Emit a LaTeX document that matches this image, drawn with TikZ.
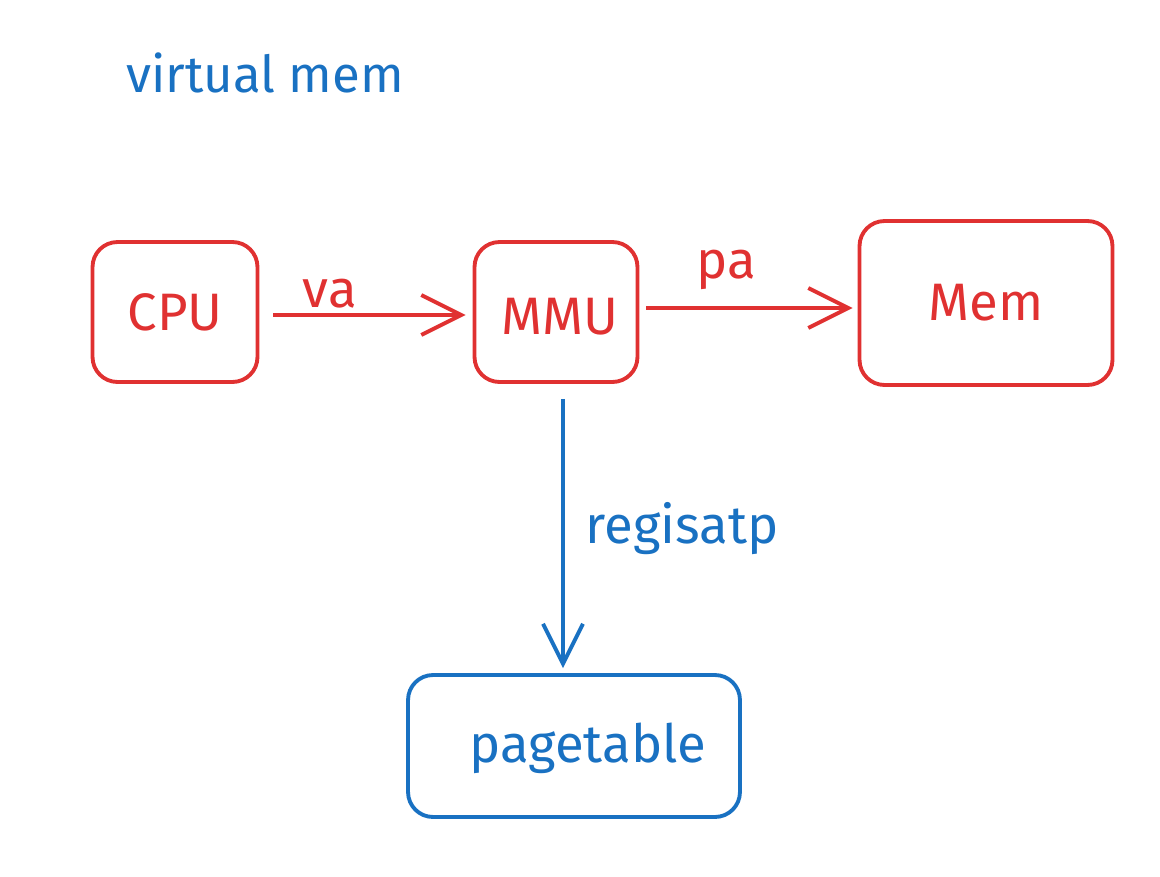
\documentclass[tikz,border=0pt]{standalone}
\usepackage{fontspec}
\setmainfont{Fira Sans}
\usetikzlibrary{arrows.meta}
\definecolor{sketchred}{HTML}{E03131}
\definecolor{sketchblue}{HTML}{1971C2}

\tikzset{
  box/.style={draw, rounded corners=0.5cm, line width=2.2pt, inner sep=0pt},
  lbl/.style={font=\fontsize{30}{34}\selectfont},
  barb/.style={-{Straight Barb[length=0.8cm,width=0.8cm,line width=2.2pt]}, line width=2.4pt}
}

\begin{document}
\begin{tikzpicture}[x=0.02cm,y=-0.02cm]
\useasboundingbox (0,0) rectangle (1160,876);
\node [lbl, text=sketchblue, font=\fontsize{29}{34}\selectfont] (title) at (265,73) {virtual mem};
% boxes
\node [box, sketchred, minimum width=3.3cm, minimum height=2.8cm] (cpu) at (175,312) {};
\node [box, sketchred, minimum width=3.26cm, minimum height=2.8cm] (mmu) at (556,312) {};
\node [box, sketchred, minimum width=5.06cm, minimum height=3.28cm] (mem) at (986,303) {};
\node [box, sketchblue, minimum width=6.64cm, minimum height=2.84cm] (pagetable) at (574,746) {};
\node [lbl, text=sketchred] at (cpu.center) {CPU};
\node [lbl, text=sketchred] at ([xshift=0.08cm,yshift=-0.1cm]mmu.center) {MMU};
\node [lbl, text=sketchred] at (mem.center) {Mem};
\node [lbl, text=sketchblue] at ([xshift=0.28cm,yshift=-0.04cm]pagetable.center) {pagetable};
% arrows
\draw [barb, sketchred, shorten <=0.28cm, shorten >=0.14cm] ([yshift=-0.06cm]cpu.east) -- ([yshift=-0.06cm]mmu.west)
  node [lbl, pos=0.33, above=-0.02cm] {va};
\draw [barb, sketchred, shorten <=0.14cm, shorten >=0.1cm] ([yshift=0.08cm]mmu.east) -- ([yshift=0.08cm]mmu.east -| mem.west)
  node [lbl, pos=0.4, above=0.2cm] {pa};
\draw [barb, sketchblue, shorten <=0.3cm, shorten >=0.1cm] ([xshift=0.14cm]mmu.south) -- ([xshift=0.14cm]mmu.south |- pagetable.north)
  node [lbl, midway, right=0.3cm] {regisatp};
\end{tikzpicture}
\end{document}
